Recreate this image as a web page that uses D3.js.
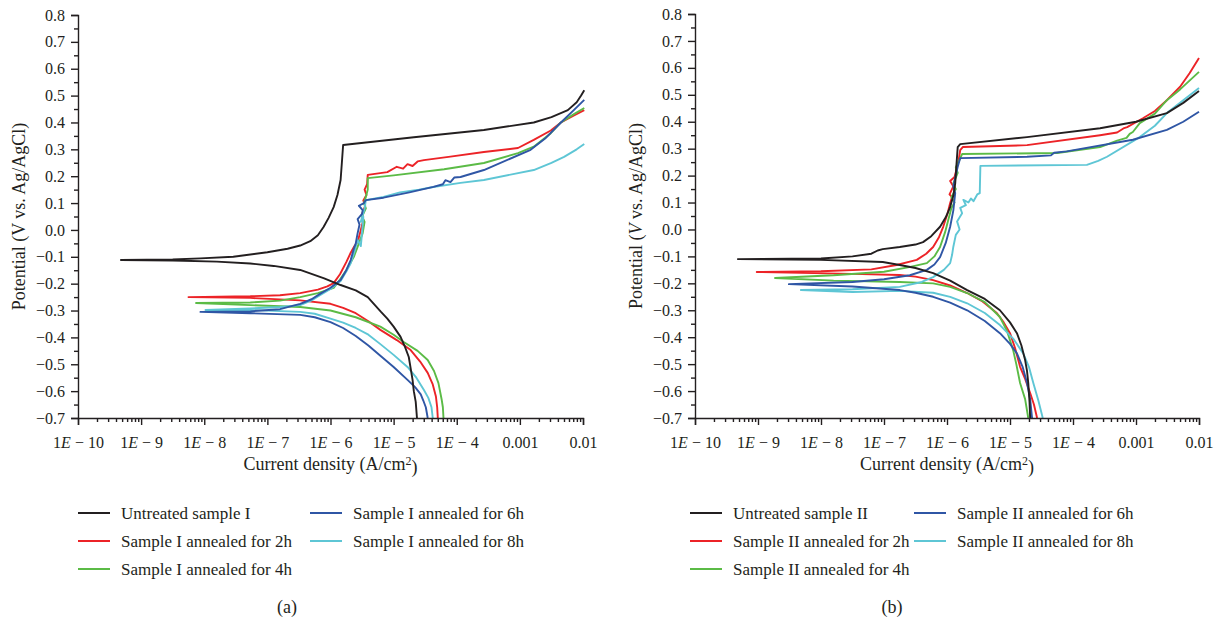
<!DOCTYPE html>
<meta charset="utf-8">
<style>

  body { margin: 0; background: #fff; }

  text {
    font-family: "Liberation Serif", "Times New Roman", serif;
    fill: #231f20;
  }

  .axis text { font-size: 16px; }
  .legend text { font-size: 17px; }
  .title { font-size: 18px; }
  .caption { font-size: 18px; text-anchor: middle; }

  .axis path, .axis line {
    stroke: #231f20;
    stroke-width: 1.4;
  }

  .curve {
    fill: none;
    stroke-width: 1.9;
    stroke-linejoin: round;
  }

</style>
<svg width="1222" height="621"></svg>
<script src="https://cdn.jsdelivr.net/npm/d3@7"></script>
<script>

// each curve: [log10(current density), potential], from the cathodic end up to Ecorr and out along the anodic branch
var aUntreated = [[-4.63,-0.70],[-4.65,-0.64],[-4.68,-0.60],[-4.70,-0.558],[-4.73,-0.515],[-4.76,-0.473],[-4.82,-0.435],[-4.89,-0.398],[-5.0,-0.36],[-5.1,-0.33],[-5.2,-0.305],[-5.41,-0.25],[-5.6,-0.225],[-5.84,-0.205],[-6.1,-0.18],[-6.48,-0.149],[-6.9,-0.134],[-7.27,-0.125],[-7.8,-0.118],[-8.5,-0.114],[-9.32,-0.112],
  [-8.5,-0.11],[-8.06,-0.106],[-7.54,-0.10],[-7.0,-0.083],[-6.68,-0.07],[-6.48,-0.058],[-6.32,-0.042],[-6.2,-0.02],[-6.11,0.011],[-6.03,0.045],[-5.95,0.085],[-5.89,0.13],[-5.84,0.186],[-5.82,0.25],[-5.80,0.316],
  [-4.68,0.345],[-3.57,0.372],[-2.78,0.40],[-2.5,0.42],[-2.24,0.446],[-2.1,0.475],[-2.03,0.50],[-1.98,0.52]];
var a2h = [[-4.30,-0.70],[-4.31,-0.66],[-4.33,-0.62],[-4.38,-0.575],[-4.46,-0.532],[-4.58,-0.49],[-4.73,-0.447],[-4.95,-0.41],[-5.21,-0.372],[-5.4,-0.34],[-5.6,-0.31],[-5.8,-0.29],[-6.0,-0.275],[-6.48,-0.262],[-7.27,-0.253],[-8.25,-0.25],
  [-7.27,-0.247],[-6.8,-0.243],[-6.48,-0.235],[-6.2,-0.222],[-6.05,-0.21],[-5.95,-0.198],[-5.85,-0.165],[-5.75,-0.12],[-5.68,-0.085],[-5.62,-0.06],[-5.57,-0.045],[-5.52,0.0],[-5.48,0.037],[-5.50,0.06],[-5.45,0.09],[-5.48,0.11],[-5.43,0.13],[-5.46,0.15],[-5.42,0.17],[-5.41,0.205],
  [-5.10,0.215],[-4.95,0.235],[-4.85,0.228],[-4.78,0.245],[-4.70,0.238],[-4.62,0.255],[-4.52,0.26],[-4.10,0.273],[-3.57,0.29],[-3.03,0.305],[-2.78,0.335],[-2.51,0.37],[-2.35,0.40],[-2.15,0.425],[-1.98,0.446]];
var a4h = [[-4.21,-0.70],[-4.22,-0.66],[-4.24,-0.63],[-4.29,-0.57],[-4.36,-0.525],[-4.46,-0.484],[-4.62,-0.45],[-4.84,-0.417],[-5.0,-0.39],[-5.21,-0.36],[-5.6,-0.325],[-6.0,-0.30],[-6.48,-0.287],[-7.27,-0.28],[-8.13,-0.272],
  [-7.27,-0.27],[-6.8,-0.263],[-6.48,-0.25],[-6.2,-0.235],[-5.95,-0.216],[-5.85,-0.185],[-5.75,-0.15],[-5.63,-0.10],[-5.55,-0.05],[-5.49,-0.012],[-5.46,0.03],[-5.50,0.05],[-5.44,0.08],[-5.47,0.10],[-5.44,0.123],[-5.41,0.15],[-5.41,0.193],
  [-5.0,0.203],[-4.2,0.226],[-3.57,0.249],[-3.03,0.286],[-2.78,0.31],[-2.51,0.36],[-2.35,0.40],[-2.15,0.43],[-1.98,0.454]];
var a6h = [[-4.46,-0.70],[-4.49,-0.66],[-4.53,-0.635],[-4.57,-0.612],[-4.66,-0.585],[-4.78,-0.558],[-5.0,-0.51],[-5.21,-0.468],[-5.4,-0.43],[-5.6,-0.395],[-5.8,-0.365],[-6.0,-0.343],[-6.25,-0.325],[-6.48,-0.316],[-7.27,-0.31],[-8.06,-0.305],
  [-7.27,-0.303],[-6.8,-0.295],[-6.48,-0.275],[-6.3,-0.258],[-6.16,-0.237],[-6.0,-0.215],[-5.84,-0.186],[-5.75,-0.15],[-5.68,-0.112],[-5.63,-0.07],[-5.60,-0.05],[-5.57,-0.012],[-5.54,0.02],[-5.57,0.04],[-5.50,0.06],[-5.49,0.074],[-5.55,0.09],[-5.47,0.10],[-5.44,0.111],
  [-5.16,0.12],[-4.75,0.14],[-4.37,0.16],[-4.22,0.17],[-4.18,0.185],[-4.10,0.178],[-4.04,0.195],[-3.94,0.197],[-3.57,0.223],[-2.83,0.298],[-2.6,0.34],[-2.35,0.40],[-2.15,0.445],[-1.98,0.484]];
var a8h = [[-4.38,-0.70],[-4.40,-0.66],[-4.45,-0.625],[-4.52,-0.596],[-4.64,-0.55],[-4.78,-0.51],[-5.0,-0.465],[-5.21,-0.425],[-5.4,-0.39],[-5.6,-0.365],[-5.8,-0.345],[-6.0,-0.33],[-6.25,-0.312],[-6.48,-0.305],[-7.27,-0.298],[-7.98,-0.298],
  [-7.27,-0.292],[-6.8,-0.287],[-6.48,-0.28],[-6.3,-0.262],[-6.16,-0.242],[-6.0,-0.22],[-5.84,-0.19],[-5.75,-0.155],[-5.68,-0.124],[-5.62,-0.08],[-5.57,-0.037],[-5.52,-0.06],[-5.50,-0.01],[-5.48,0.049],[-5.52,0.03],[-5.46,0.08],[-5.44,0.111],
  [-5.16,0.123],[-4.9,0.14],[-4.6,0.15],[-4.37,0.16],[-3.94,0.175],[-3.57,0.186],[-2.78,0.223],[-2.5,0.25],[-2.30,0.272],[-2.1,0.30],[-1.98,0.32]];

var bUntreated = [[-4.68,-0.70],[-4.69,-0.64],[-4.71,-0.57],[-4.73,-0.525],[-4.76,-0.485],[-4.82,-0.43],[-4.89,-0.385],[-5.0,-0.345],[-5.16,-0.30],[-5.4,-0.258],[-5.68,-0.225],[-5.95,-0.19],[-6.22,-0.162],[-6.5,-0.143],[-6.75,-0.132],[-7.02,-0.121],[-8.0,-0.113],[-9.32,-0.11],
  [-8.0,-0.108],[-7.5,-0.10],[-7.2,-0.09],[-7.1,-0.078],[-7.02,-0.073],[-6.75,-0.065],[-6.5,-0.056],[-6.38,-0.047],[-6.25,-0.025],[-6.11,0.01],[-6.02,0.045],[-5.95,0.083],[-5.9,0.125],[-5.87,0.17],[-5.85,0.24],[-5.83,0.306],[-5.79,0.317],
  [-4.73,0.343],[-3.57,0.376],[-3.0,0.40],[-2.51,0.432],[-2.25,0.47],[-2.0,0.514]];
var b2h = [[-4.57,-0.70],[-4.62,-0.65],[-4.68,-0.607],[-4.76,-0.555],[-4.84,-0.51],[-4.92,-0.44],[-5.0,-0.385],[-5.1,-0.345],[-5.21,-0.31],[-5.45,-0.265],[-5.68,-0.236],[-5.95,-0.208],[-6.22,-0.188],[-6.5,-0.175],[-6.75,-0.169],[-7.5,-0.165],[-9.02,-0.158],
  [-8.0,-0.155],[-7.2,-0.148],[-6.8,-0.132],[-6.48,-0.113],[-6.33,-0.09],[-6.22,-0.065],[-6.13,-0.03],[-6.06,0.01],[-5.99,0.06],[-5.95,0.098],[-5.92,0.12],[-5.96,0.13],[-5.90,0.16],[-5.95,0.18],[-5.88,0.195],[-5.82,0.25],[-5.79,0.295],[-5.75,0.306],
  [-4.73,0.313],[-3.57,0.35],[-3.3,0.36],[-3.2,0.375],[-3.14,0.38],[-2.89,0.413],[-2.7,0.44],[-2.51,0.48],[-2.3,0.53],[-2.15,0.58],[-2.0,0.637]];
var b4h = [[-4.71,-0.70],[-4.76,-0.63],[-4.84,-0.57],[-4.9,-0.50],[-4.95,-0.448],[-5.05,-0.375],[-5.16,-0.325],[-5.4,-0.27],[-5.68,-0.236],[-5.95,-0.213],[-6.22,-0.20],[-6.75,-0.195],[-7.8,-0.19],[-8.73,-0.18],
  [-7.8,-0.17],[-7.0,-0.157],[-6.6,-0.14],[-6.32,-0.125],[-6.2,-0.10],[-6.11,-0.065],[-6.03,-0.01],[-5.98,0.035],[-5.93,0.08],[-5.88,0.10],[-5.93,0.12],[-5.86,0.15],[-5.90,0.17],[-5.83,0.21],[-5.86,0.23],[-5.76,0.28],
  [-4.25,0.284],[-3.57,0.306],[-3.3,0.33],[-3.15,0.34],[-3.1,0.355],[-3.05,0.362],[-2.94,0.395],[-2.7,0.43],[-2.51,0.48],[-2.3,0.52],[-2.0,0.585]];
var b6h = [[-4.65,-0.70],[-4.68,-0.63],[-4.73,-0.57],[-4.8,-0.51],[-4.89,-0.46],[-5.0,-0.425],[-5.16,-0.385],[-5.4,-0.34],[-5.68,-0.30],[-5.95,-0.272],[-6.22,-0.25],[-6.5,-0.235],[-6.75,-0.225],[-7.5,-0.212],[-8.51,-0.203],
  [-7.5,-0.195],[-7.0,-0.185],[-6.59,-0.17],[-6.32,-0.15],[-6.2,-0.13],[-6.11,-0.103],[-6.02,-0.05],[-5.95,0.01],[-5.9,0.07],[-5.87,0.135],[-5.90,0.16],[-5.83,0.233],[-5.79,0.265],
  [-4.73,0.27],[-4.35,0.275],[-4.3,0.285],[-4.10,0.29],[-3.05,0.333],[-2.51,0.37],[-2.25,0.40],[-2.0,0.437]];
var b8h = [[-4.48,-0.70],[-4.55,-0.635],[-4.63,-0.57],[-4.7,-0.51],[-4.79,-0.46],[-4.95,-0.405],[-5.16,-0.355],[-5.4,-0.31],[-5.68,-0.274],[-5.95,-0.25],[-6.22,-0.235],[-6.75,-0.228],[-7.5,-0.232],[-8.32,-0.225],
  [-7.5,-0.222],[-6.75,-0.213],[-6.4,-0.195],[-6.22,-0.177],[-6.05,-0.15],[-5.95,-0.125],[-5.92,-0.095],[-5.90,-0.065],[-5.86,-0.02],[-5.80,0.0],[-5.84,0.03],[-5.76,0.06],[-5.79,0.08],[-5.70,0.09],[-5.74,0.11],[-5.66,0.10],[-5.62,0.115],[-5.58,0.105],[-5.52,0.13],[-5.48,0.135],[-5.47,0.236],
  [-3.78,0.24],[-3.6,0.255],[-3.46,0.27],[-2.94,0.343],[-2.7,0.385],[-2.51,0.432],[-2.25,0.48],[-2.0,0.525]];

var labelsA = ["Untreated sample I", "Sample I annealed for 2h", "Sample I annealed for 4h", "Sample I annealed for 6h", "Sample I annealed for 8h"];
var labelsB = ["Untreated sample II", "Sample II annealed for 2h", "Sample II annealed for 4h", "Sample II annealed for 6h", "Sample II annealed for 8h"];
var colorkey = ["#231f20", "#ec2327", "#5bbb46", "#2f56a5", "#5ec6d5"];

var xTickLabels = ["1E − 10", "1E − 9", "1E − 8", "1E − 7", "1E − 6", "1E − 5", "1E − 4", "0.001", "0.01"];
var yTicks = [-0.7, -0.6, -0.5, -0.4, -0.3, -0.2, -0.1, 0.0, 0.1, 0.2, 0.3, 0.4, 0.5, 0.6, 0.7, 0.8];

var svg = d3.select("svg");

svg.append("rect").attr("width", 1222).attr("height", 621).attr("fill", "#fff");

var panels = [
  {series: [aUntreated, a2h, a4h, a6h, a8h], labels: labelsA, left: 78, right: 583, top: 15, bottom: 418,
   legendX: [78, 310], caption: "(a)", captionX: 287, italicV: false},
  {series: [bUntreated, b2h, b4h, b6h, b8h], labels: labelsB, left: 695, right: 1199, top: 14, bottom: 418,
   legendX: [690, 914], caption: "(b)", captionX: 892, italicV: true}
];

var decades = d3.range(-10, -1).map(function(p) { return Math.pow(10, p); });
var minorX = [];
d3.range(-10, -2).forEach(function(p) {
  for (var k = 2; k < 10; k++) minorX.push(k * Math.pow(10, p));
});
var minorY = yTicks.slice(0, -1).map(function(d) { return d + 0.05; });

// draw order: coloured curves first, black on top
var drawOrder = [1, 2, 4, 3, 0];

panels.forEach(function(p) {

  var x = d3.scaleLog()
      .domain([1e-10, 1e-2])
      .range([p.left, p.right]);

  var y = d3.scaleLinear()
      .domain([-0.7, 0.8])
      .range([p.bottom, p.top]);

  var line = d3.line()
      .x(function(d) { return x(Math.pow(10, d[0])); })
      .y(function(d) { return y(d[1]); });

  var g = svg.append("g");

  g.selectAll(".curve")
    .data(drawOrder)
    .enter().append("path")
      .attr("class", "curve")
      .attr("stroke", function(i) { return colorkey[i]; })
      .attr("d", function(i) { return line(p.series[i]); });

  // x axis
  g.append("g")
      .attr("class", "axis")
      .attr("transform", "translate(0," + p.bottom + ")")
      .call(d3.axisBottom(x).tickValues(minorX).tickSize(4).tickFormat(""))
      .call(function(s) { s.select(".domain").remove(); });

  var xAxis = g.append("g")
      .attr("class", "axis")
      .attr("transform", "translate(0," + p.bottom + ")")
      .call(d3.axisBottom(x).tickValues(decades).tickSizeOuter(0).tickSize(7).tickFormat(function(d, i) { return xTickLabels[i]; }));

  xAxis.selectAll(".tick text")
      .attr("y", 30)
      .attr("dy", null)
      .each(function(d, i) {
        var lab = xTickLabels[i], t = d3.select(this);
        if (lab.indexOf("E") < 0) return;
        var parts = lab.split("E");
        t.text(null);
        t.append("tspan").text(parts[0]);
        t.append("tspan").attr("font-style", "italic").text("E");
        t.append("tspan").text(parts[1]);
      });

  // y axis
  g.append("g")
      .attr("class", "axis")
      .attr("transform", "translate(" + p.left + ",0)")
      .call(d3.axisLeft(y).tickValues(minorY).tickSize(4).tickFormat(""))
      .call(function(s) { s.select(".domain").remove(); });

  g.append("g")
      .attr("class", "axis")
      .attr("transform", "translate(" + p.left + ",0)")
      .call(d3.axisLeft(y).tickValues(yTicks).tickSizeOuter(0).tickSize(7).tickPadding(6).tickFormat(d3.format(".1f")));

  g.selectAll(".axis text").attr("fill", "#231f20").style("fill", "#231f20");

  // axis titles
  var yt = g.append("text")
      .attr("class", "title")
      .attr("text-anchor", "middle")
      .attr("transform", "translate(" + (p.left - 53) + "," + (p.top + p.bottom) / 2 + ") rotate(-90)");
  yt.append("tspan").text("Potential (");
  yt.append("tspan").attr("font-style", p.italicV ? "italic" : null).text("V");
  yt.append("tspan").text(" vs. Ag/AgCl)");

  var xt = g.append("text")
      .attr("class", "title")
      .attr("text-anchor", "middle")
      .attr("x", (p.left + p.right) / 2)
      .attr("y", p.bottom + 52);
  xt.append("tspan").text("Current density (A/cm");
  xt.append("tspan").attr("dy", "-0.45em").attr("font-size", "12px").text("2");
  xt.append("tspan").attr("dy", "0.45em").text(")");

  // legend
  var legend = g.append("g").attr("class", "legend");
  p.labels.forEach(function(lab, i) {
    var col = i < 3 ? 0 : 1, row = i < 3 ? i : i - 3;
    var lx = p.legendX[col], ly = 513 + row * 28;
    legend.append("line")
        .attr("x1", lx).attr("x2", lx + 32)
        .attr("y1", ly).attr("y2", ly)
        .attr("stroke", colorkey[i])
        .attr("stroke-width", 2);
    legend.append("text")
        .attr("x", lx + 43)
        .attr("y", ly + 6)
        .text(lab);
  });

  g.append("text")
      .attr("class", "caption")
      .attr("x", p.captionX)
      .attr("y", 613)
      .text(p.caption);
});

</script>
